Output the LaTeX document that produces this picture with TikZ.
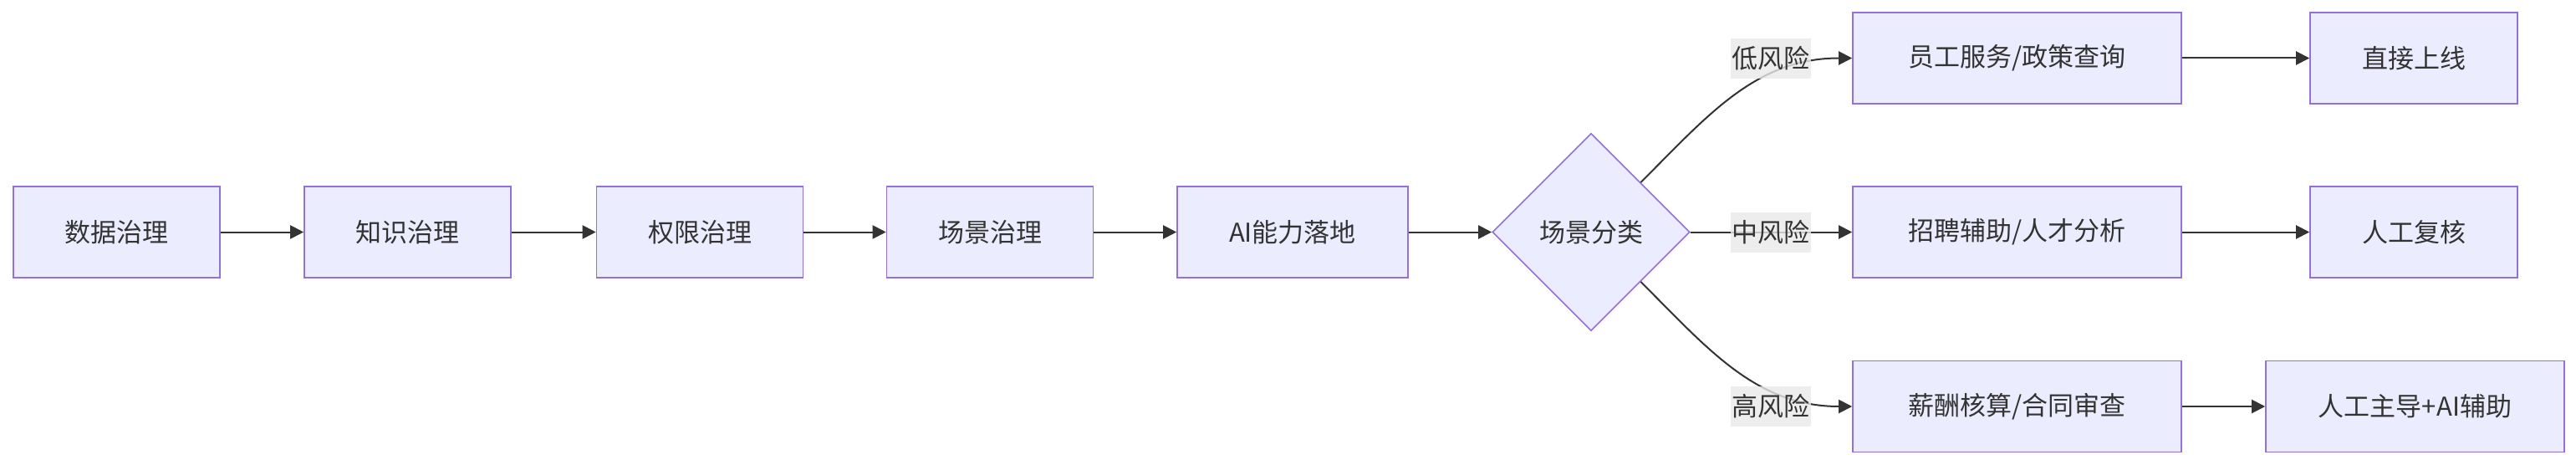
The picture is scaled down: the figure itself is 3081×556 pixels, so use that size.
\documentclass[tikz,border=0pt]{standalone}
\usepackage{fontspec}
\newfontfamily\cjk{Noto Sans CJK SC}
\usetikzlibrary{arrows.meta,shapes.geometric}
\definecolor{boxfill}{HTML}{ECECFF}
\definecolor{boxline}{HTML}{9370DB}
\definecolor{txt}{HTML}{333333}
\definecolor{lblfill}{HTML}{E8E8E8}
\begin{document}
\begin{tikzpicture}[x=0.5pt,y=-0.5pt,
  nfont/.style={font=\cjk\fontsize{15.5pt}{18pt}\selectfont},
  box/.style={draw=boxline, line width=0.8pt, fill=boxfill, text=txt, minimum height=54.5pt, inner sep=0pt, nfont},
  dia/.style={diamond, aspect=1, draw=boxline, line width=0.8pt, fill=boxfill, text=txt, minimum width=118pt, minimum height=118pt, inner sep=0pt, nfont},
  lbl/.style={fill=lblfill, fill opacity=0.8, text opacity=1, text=txt, minimum width=48pt, minimum height=24pt, inner sep=0pt, nfont},
  conn/.style={draw=txt, line width=1pt, -{Triangle[length=8pt,width=8pt]}}
]
\useasboundingbox (0,0) rectangle (3081,556);
\node[box, minimum width=123.5pt] (b1) at (139.5,277.5) {数据治理};
\node[box, minimum width=123.5pt] (b2) at (487.5,277.5) {知识治理};
\node[box, minimum width=123.5pt] (b3) at (837,277.5) {权限治理};
\node[box, minimum width=123.5pt] (b4) at (1184,277.5) {场景治理};
\node[box, minimum width=138pt] (b5) at (1546,277.5) {AI能力落地};
\node[dia] (d) at (1903,277.5) {场景分类};
\node[box, minimum width=196.5pt] (t1) at (2412.5,69.5) {员工服务/政策查询};
\node[box, minimum width=124pt] (t2) at (2887,69.5) {直接上线};
\node[box, minimum width=196.5pt] (m1) at (2412.5,277.5) {招聘辅助/人才分析};
\node[box, minimum width=124pt] (m2) at (2887,277.5) {人工复核};
\node[box, minimum width=196.5pt] (o1) at (2412.5,486) {薪酬核算/合同审查};
\node[box, minimum width=178.5pt] (o2) at (2888.5,486) {人工主导+AI辅助};
\draw[conn] (b1.east) -- (b2.west);
\draw[conn] (b2.east) -- (b3.west);
\draw[conn] (b3.east) -- (b4.west);
\draw[conn] (b4.east) -- (b5.west);
\draw[conn] (b5.east) -- (d.west);
\draw[conn] (d.north east) to[out=45,in=180] (t1.west);
\draw[conn] (d.east) -- (m1.west);
\draw[conn] (d.south east) to[out=-45,in=180] (o1.west);
\draw[conn] (t1.east) -- (t2.west);
\draw[conn] (m1.east) -- (m2.west);
\draw[conn] (o1.east) -- (o2.west);
\node[lbl] (l1) at (2118,70) {低风险};
\node[lbl] (l2) at (2118,278) {中风险};
\node[lbl] (l3) at (2118,486) {高风险};
\end{tikzpicture}
\end{document}
